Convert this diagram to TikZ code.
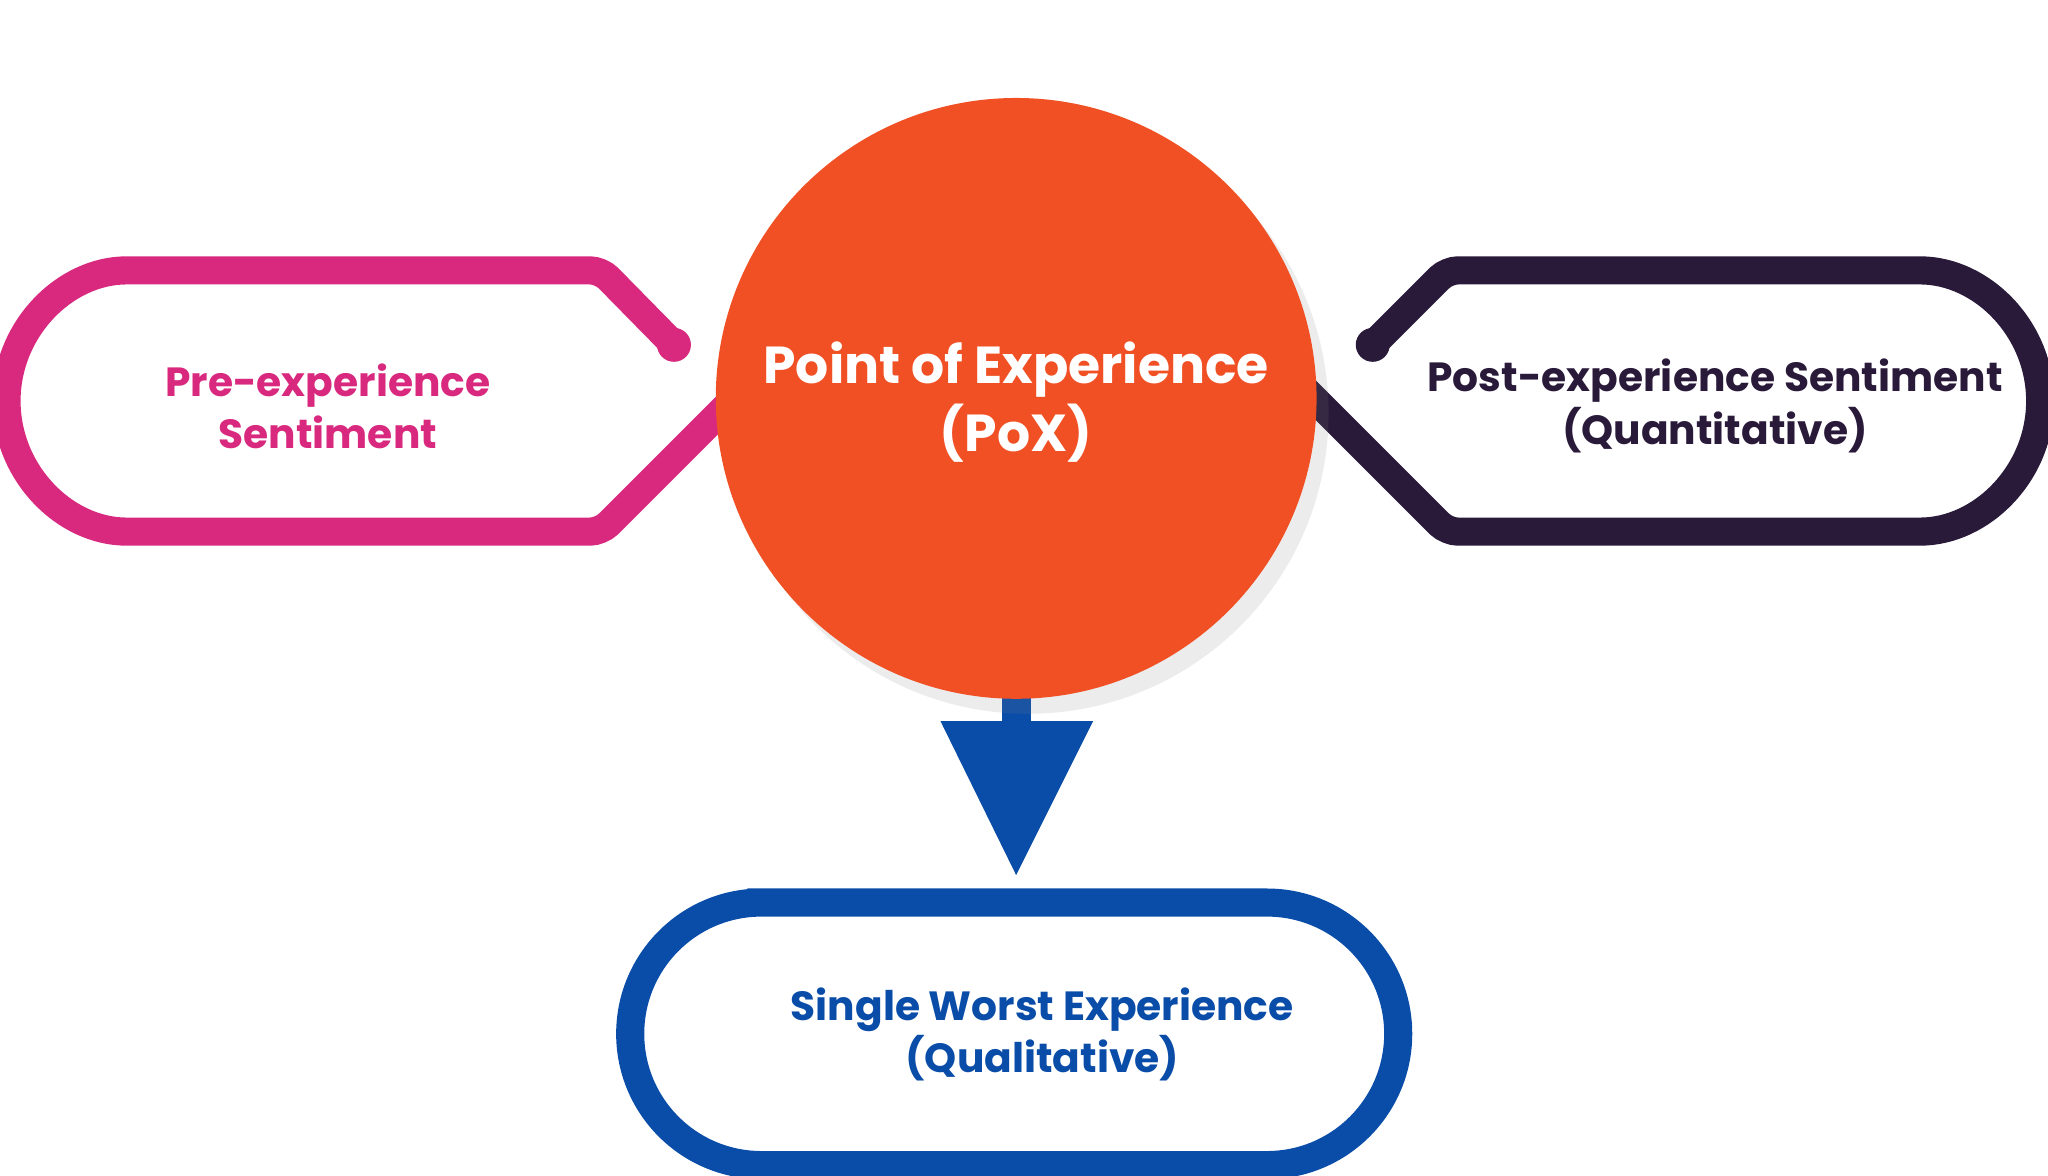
\documentclass[tikz,border=0pt]{standalone}
\usepackage{fontspec}
\setmainfont{Poppins}
\usetikzlibrary{shadows,positioning}
\definecolor{pocorange}{HTML}{F05024}
\definecolor{prepink}{HTML}{D8297F}
\definecolor{postdark}{HTML}{2A1A3A}
\definecolor{worstblue}{HTML}{0A4DA8}
\tikzset{
  pill/.style={line width=8, rounded corners=3},
  pilltext/.style={align=center, font=\fontsize{11.6}{15}\selectfont\bfseries},
}
\begin{document}
\begin{tikzpicture}[x=0.01306cm,y=-0.01306cm]
\useasboundingbox (0,0) rectangle (1568,900);
% left pill
\draw[pill,prepink] (516,264) -- (460,207) -- (105,207) arc[start angle=-90,end angle=-270,radius=100] -- (460,407) -- (560,307);
\fill[prepink] (516,264) circle (13);
% right pill
\draw[pill,postdark] (1051,264) -- (1108,207) -- (1462,207) arc[start angle=-90,end angle=90,radius=100] -- (1108,407) -- (1000,299);
\fill[postdark] (1051,264) circle (13);
% bottom pill
\draw[line width=8,worstblue] (583,691) -- (970,691) arc[start angle=-90,end angle=90,radius=100.5] -- (583,892) arc[start angle=90,end angle=270,radius=100.5] -- cycle;
% arrow
\fill[worstblue] (767,530) rectangle (789,552);
\fill[worstblue] (720,552) -- (837,552) -- (778,670) -- cycle;
% circle
\node[circle,fill=pocorange,minimum size=460*0.01306cm,inner sep=0,
  drop shadow={shadow xshift=0.12cm,shadow yshift=-0.15cm,opacity=0.15}] (pox) at (778,305) {};
\node[align=center,text=white,font=\fontsize{14.8}{19.5}\selectfont\bfseries] (poxtext) at (778,308) {Point of Experience\\(PoX)};
\node[pilltext,text=prepink] (pre) at (251,311) {Pre-experience\\Sentiment};
\node[pilltext,text=postdark] (post) at (1313,311) {Post-experience Sentiment\\(Quantitative)};
\node[pilltext,text=worstblue] (worst) at (798,792) {Single Worst Experience\\(Qualitative)};
\end{tikzpicture}
\end{document}
